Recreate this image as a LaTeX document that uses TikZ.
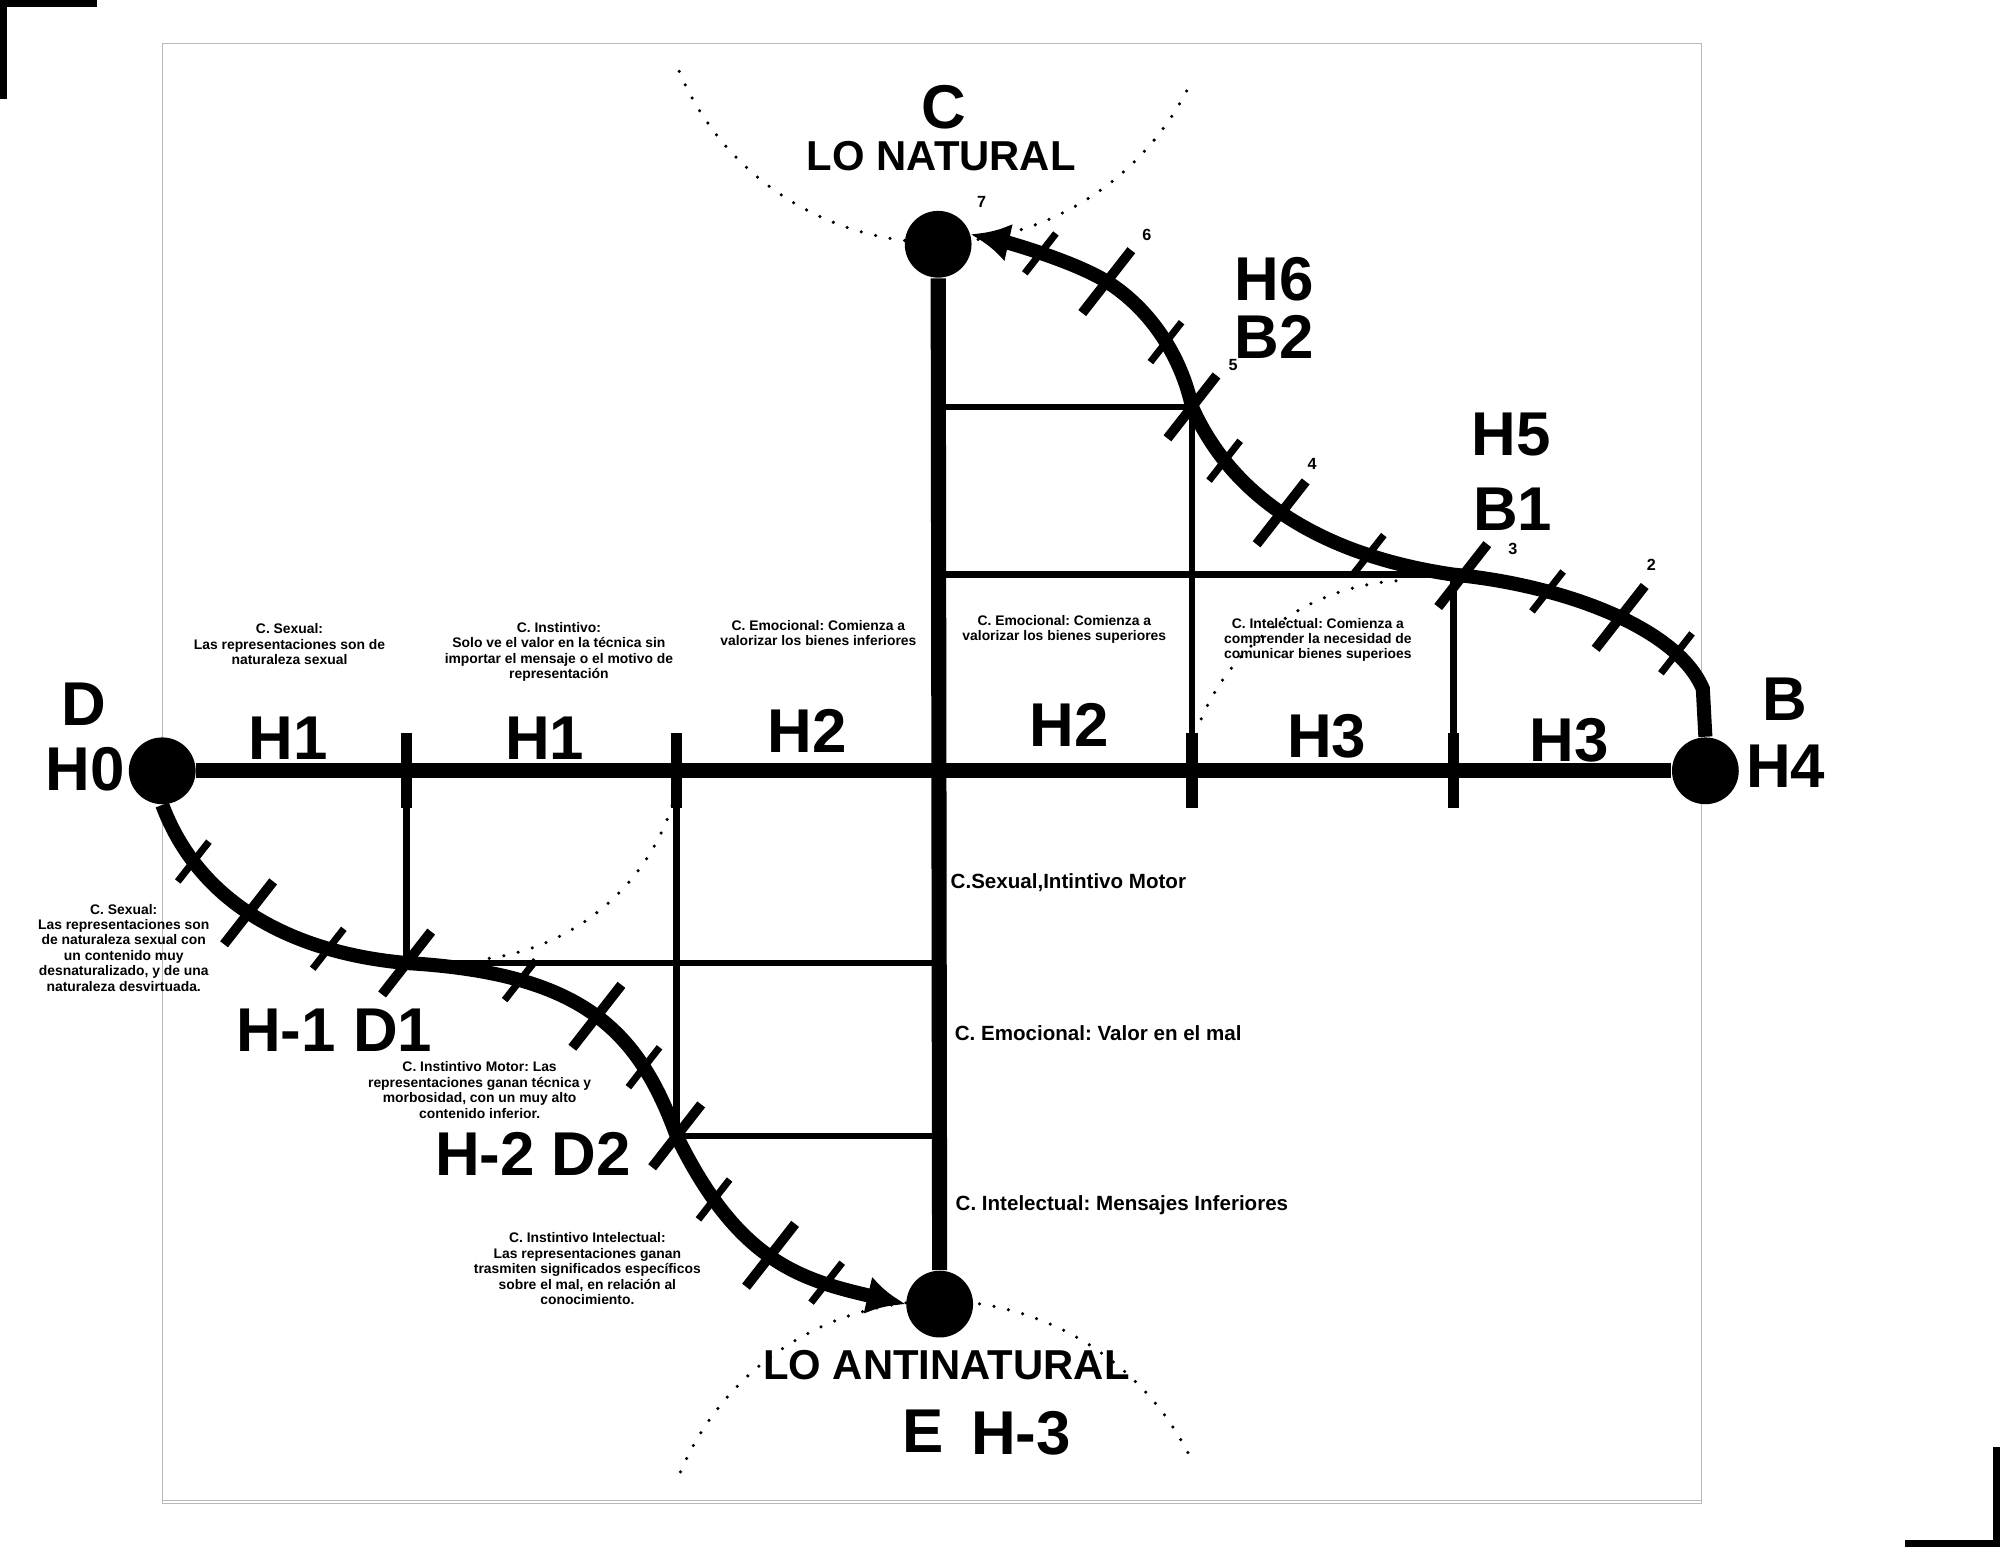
\documentclass[tikz,border=0pt]{standalone}
\usepackage{fontspec}
\setmainfont{Liberation Sans}
\usetikzlibrary{arrows.meta}

\begin{document}
\frenchspacing
\begin{tikzpicture}[x=0.012755cm, y=-0.012755cm,
  main node/.style={circle,fill=black,minimum size=19pt,inner sep=0pt},
  big label/.style={font=\fontsize{17.6pt}{20pt}\selectfont\bfseries,inner sep=0pt},
  lo label/.style={font=\fontsize{11.9pt}{14pt}\selectfont\bfseries,inner sep=0pt},
  note text/.style={font=\fontsize{3.95pt}{4.4pt}\selectfont\bfseries,align=center,inner sep=0pt},
  side text/.style={font=\fontsize{5.85pt}{7pt}\selectfont\bfseries,anchor=west,inner sep=0pt},
  num label/.style={font=\fontsize{4.6pt}{5pt}\selectfont\bfseries,inner sep=0pt},
  thick line/.style={line width=4.3pt},
  thin line/.style={line width=1.9pt},
  curve line/.style={line width=4pt,-{Latex[length=11pt,width=11pt]}},
  dot line/.style={line width=1pt,line cap=round,dash pattern=on 0pt off 4.2pt},
  axis tick/.style={rectangle,fill=black,minimum width=3.2pt,minimum height=21.4pt,inner sep=0pt},
  big tick/.style={rectangle,fill=black,minimum width=2.8pt,minimum height=22.7pt,inner sep=0pt,rotate=-38},
  small tick/.style={rectangle,fill=black,minimum width=2pt,minimum height=14.4pt,inner sep=0pt,rotate=-38}]
\useasboundingbox (0,0) rectangle (1568,1213);
% frame and crop marks
\draw[gray!55,line width=0.3pt] (127.3,34) rectangle (1334,1179);
\draw[gray!55,line width=0.3pt] (127.3,1176) -- (1334,1176);
\fill (0,0) rectangle (76,5.5);
\fill (0,0) rectangle (5.5,77.6);
\fill (1562.5,1134.2) rectangle (1568,1213);
\fill (1493.5,1207.5) rectangle (1568,1213);
% dotted arcs
\draw[dot line] (532.5,56) arc[start angle=203,end angle=333,radius=2.806cm];
\draw[dot line] (533.5,1154) arc[start angle=157,end angle=27,radius=2.806cm];
\draw[dot line] (1094.4,455.4) arc[start angle=94,end angle=160,radius=2.296cm];
\draw[dot line] (383.6,751.3) arc[start angle=278,end angle=342,radius=2.258cm];
% main points
\node[main node] (C) at (735.5,191.5) {};
\node[main node] (D) at (127.2,604.3) {};
\node[main node] (B) at (1337,604.3) {};
\node[main node] (E) at (736.7,1022.4) {};
\coordinate (b1) at (1139.5,450.5);
\coordinate (b2) at (934.5,319);
\coordinate (d1) at (318.8,755);
\coordinate (d2) at (530.5,890.5);
\coordinate (a1) at (318.8,604.3);
\coordinate (a2) at (530.5,604.3);
\coordinate (a3) at (934.5,604.3);
\coordinate (a4) at (1139.5,604.3);
\coordinate (v1) at (736.4,319);
\coordinate (v2) at (736.4,450.5);
\coordinate (v3) at (736.4,755);
\coordinate (v4) at (736.4,890.5);
% grid lines
\draw[thin line] (v1) -- (b2) -- (a3);
\draw[thin line] (v2) -- (b1) -- (a4);
\draw[thin line] (v3) -- (d1) -- (a1);
\draw[thin line] (v4) -- (d2) -- (a2);
\draw[thick line] (D) -- (B);
\draw[thick line] (C) -- (E);
\node[axis tick] at (a1) {};
\node[axis tick] at (a2) {};
\node[axis tick] at (a3) {};
\node[axis tick] at (a4) {};
% curves with their ticks
\draw[curve line] (B.north) -- (1335,540)
  .. controls (1314,490) and (1220,458) .. (b1)
     node[small tick,pos=0.2] {} node[big tick,pos=0.45] {} node[small tick,pos=0.7] {} node[big tick,pos=0.97] {}
  .. controls (1045.5,436.8) and (969.1,396.7) .. (b2)
     node[small tick,pos=0.25] {} node[big tick,pos=0.55] {} node[small tick,pos=0.8] {} node[big tick,pos=1] {}
  .. controls (926.1,279.4) and (902,242.3) .. (867.7,220.8)
     node[small tick,pos=0.45] {} node[big tick,pos=1] {}
  .. controls (842.3,204.9) and (789.8,190) .. (C.17)
     node[small tick,pos=0.5] {};
\draw[curve line] (D.south)
  .. controls (158.7,714.9) and (239.1,748) .. (d1)
     node[small tick,pos=0.2] {} node[big tick,pos=0.45] {} node[small tick,pos=0.74] {} node[big tick,pos=1] {}
  .. controls (455,763) and (499.7,805.9) .. (d2)
     node[small tick,pos=0.26] {} node[big tick,pos=0.52] {} node[small tick,pos=0.76] {} node[big tick,pos=1] {}
  .. controls (578.7,989.4) and (627.9,1003.3) .. (E.west)
     node[small tick,pos=0.2] {} node[big tick,pos=0.48] {} node[small tick,pos=0.72] {};
% numbers
\node[num label] (n2) at (1294.6,443) {2};
\node[num label] (n3) at (1186,430) {3};
\node[num label] (n4) at (1028.6,363.8) {4};
\node[num label] (n5) at (966.7,286.2) {5};
\node[num label] (n6) at (899.2,184.2) {6};
\node[num label] (n7) at (769.6,158.6) {7};
% big labels
\node[big label] (lC) at (740,84) {C};
\node[lo label] (lNat) at (738,122.5) {LO NATURAL};
\node[big label] (lH6) at (999,218.5) {H6};
\node[big label] (lB2) at (999,264) {B2};
\node[big label] (lH5) at (1185,341) {H5};
\node[big label] (lB1) at (1186,399) {B1};
\node[big label] (lB) at (1399,548) {B};
\node[big label] (lH4) at (1400,601) {H4};
\node[big label] (lD) at (66,552) {D};
\node[big label] (lH0) at (67,603) {H0};
\node[big label] (h1a) at (226,579) {H1};
\node[big label] (h1b) at (427,579) {H1};
\node[big label] (h2a) at (633,573) {H2};
\node[big label] (h2b) at (838,568) {H2};
\node[big label] (h3a) at (1040,577) {H3};
\node[big label] (h3b) at (1230,580) {H3};
\node[big label] (lD1) at (262,808) {H-1 D1};
\node[big label] (lD2) at (418,905) {H-2 D2};
\node[lo label] (lAnti) at (742,1070.5) {LO ANTINATURAL};
\node[big label] (lE) at (724,1122) {E};
\node[big label] (lH3) at (800.4,1124) {H-3};
% notes
\node[note text] (t1) at (227,505) {C. Sexual:\\Las representaciones son de\\naturaleza sexual};
\node[note text] (t2) at (438.2,511) {C. Instintivo:\\Solo ve el valor en la técnica sin\\importar el mensaje o el motivo de\\representación};
\node[note text] (t3) at (641.6,496.2) {C. Emocional: Comienza a\\valorizar los bienes inferiores};
\node[note text] (t4) at (834.4,493.3) {C. Emocional: Comienza a\\valorizar los bienes superiores};
\node[note text] (t5) at (1033.2,501.7) {C. Intelectual: Comienza a\\comprender la necesidad de\\comunicar bienes superioes};
\node[note text] (t6) at (97,743) {C. Sexual:\\Las representaciones son\\de naturaleza sexual con\\un contenido muy\\desnaturalizado, y de una\\naturaleza desvirtuada.};
\node[note text] (t7) at (376,854.6) {C. Instintivo Motor: Las\\representaciones ganan técnica y\\morbosidad, con un muy alto\\contenido inferior.};
\node[note text] (t8) at (460.5,994.6) {C. Instintivo Intelectual:\\Las representaciones ganan\\trasmiten significados específicos\\sobre el mal, en relación al\\conocimiento.};
\node[side text] (s1) at (744.8,692) {C.Sexual,Intintivo Motor};
\node[side text] (s2) at (748,810.2) {C. Emocional: Valor en el mal};
\node[side text] (s3) at (748.7,944.7) {C. Intelectual: Mensajes Inferiores};
\end{tikzpicture}
\end{document}
